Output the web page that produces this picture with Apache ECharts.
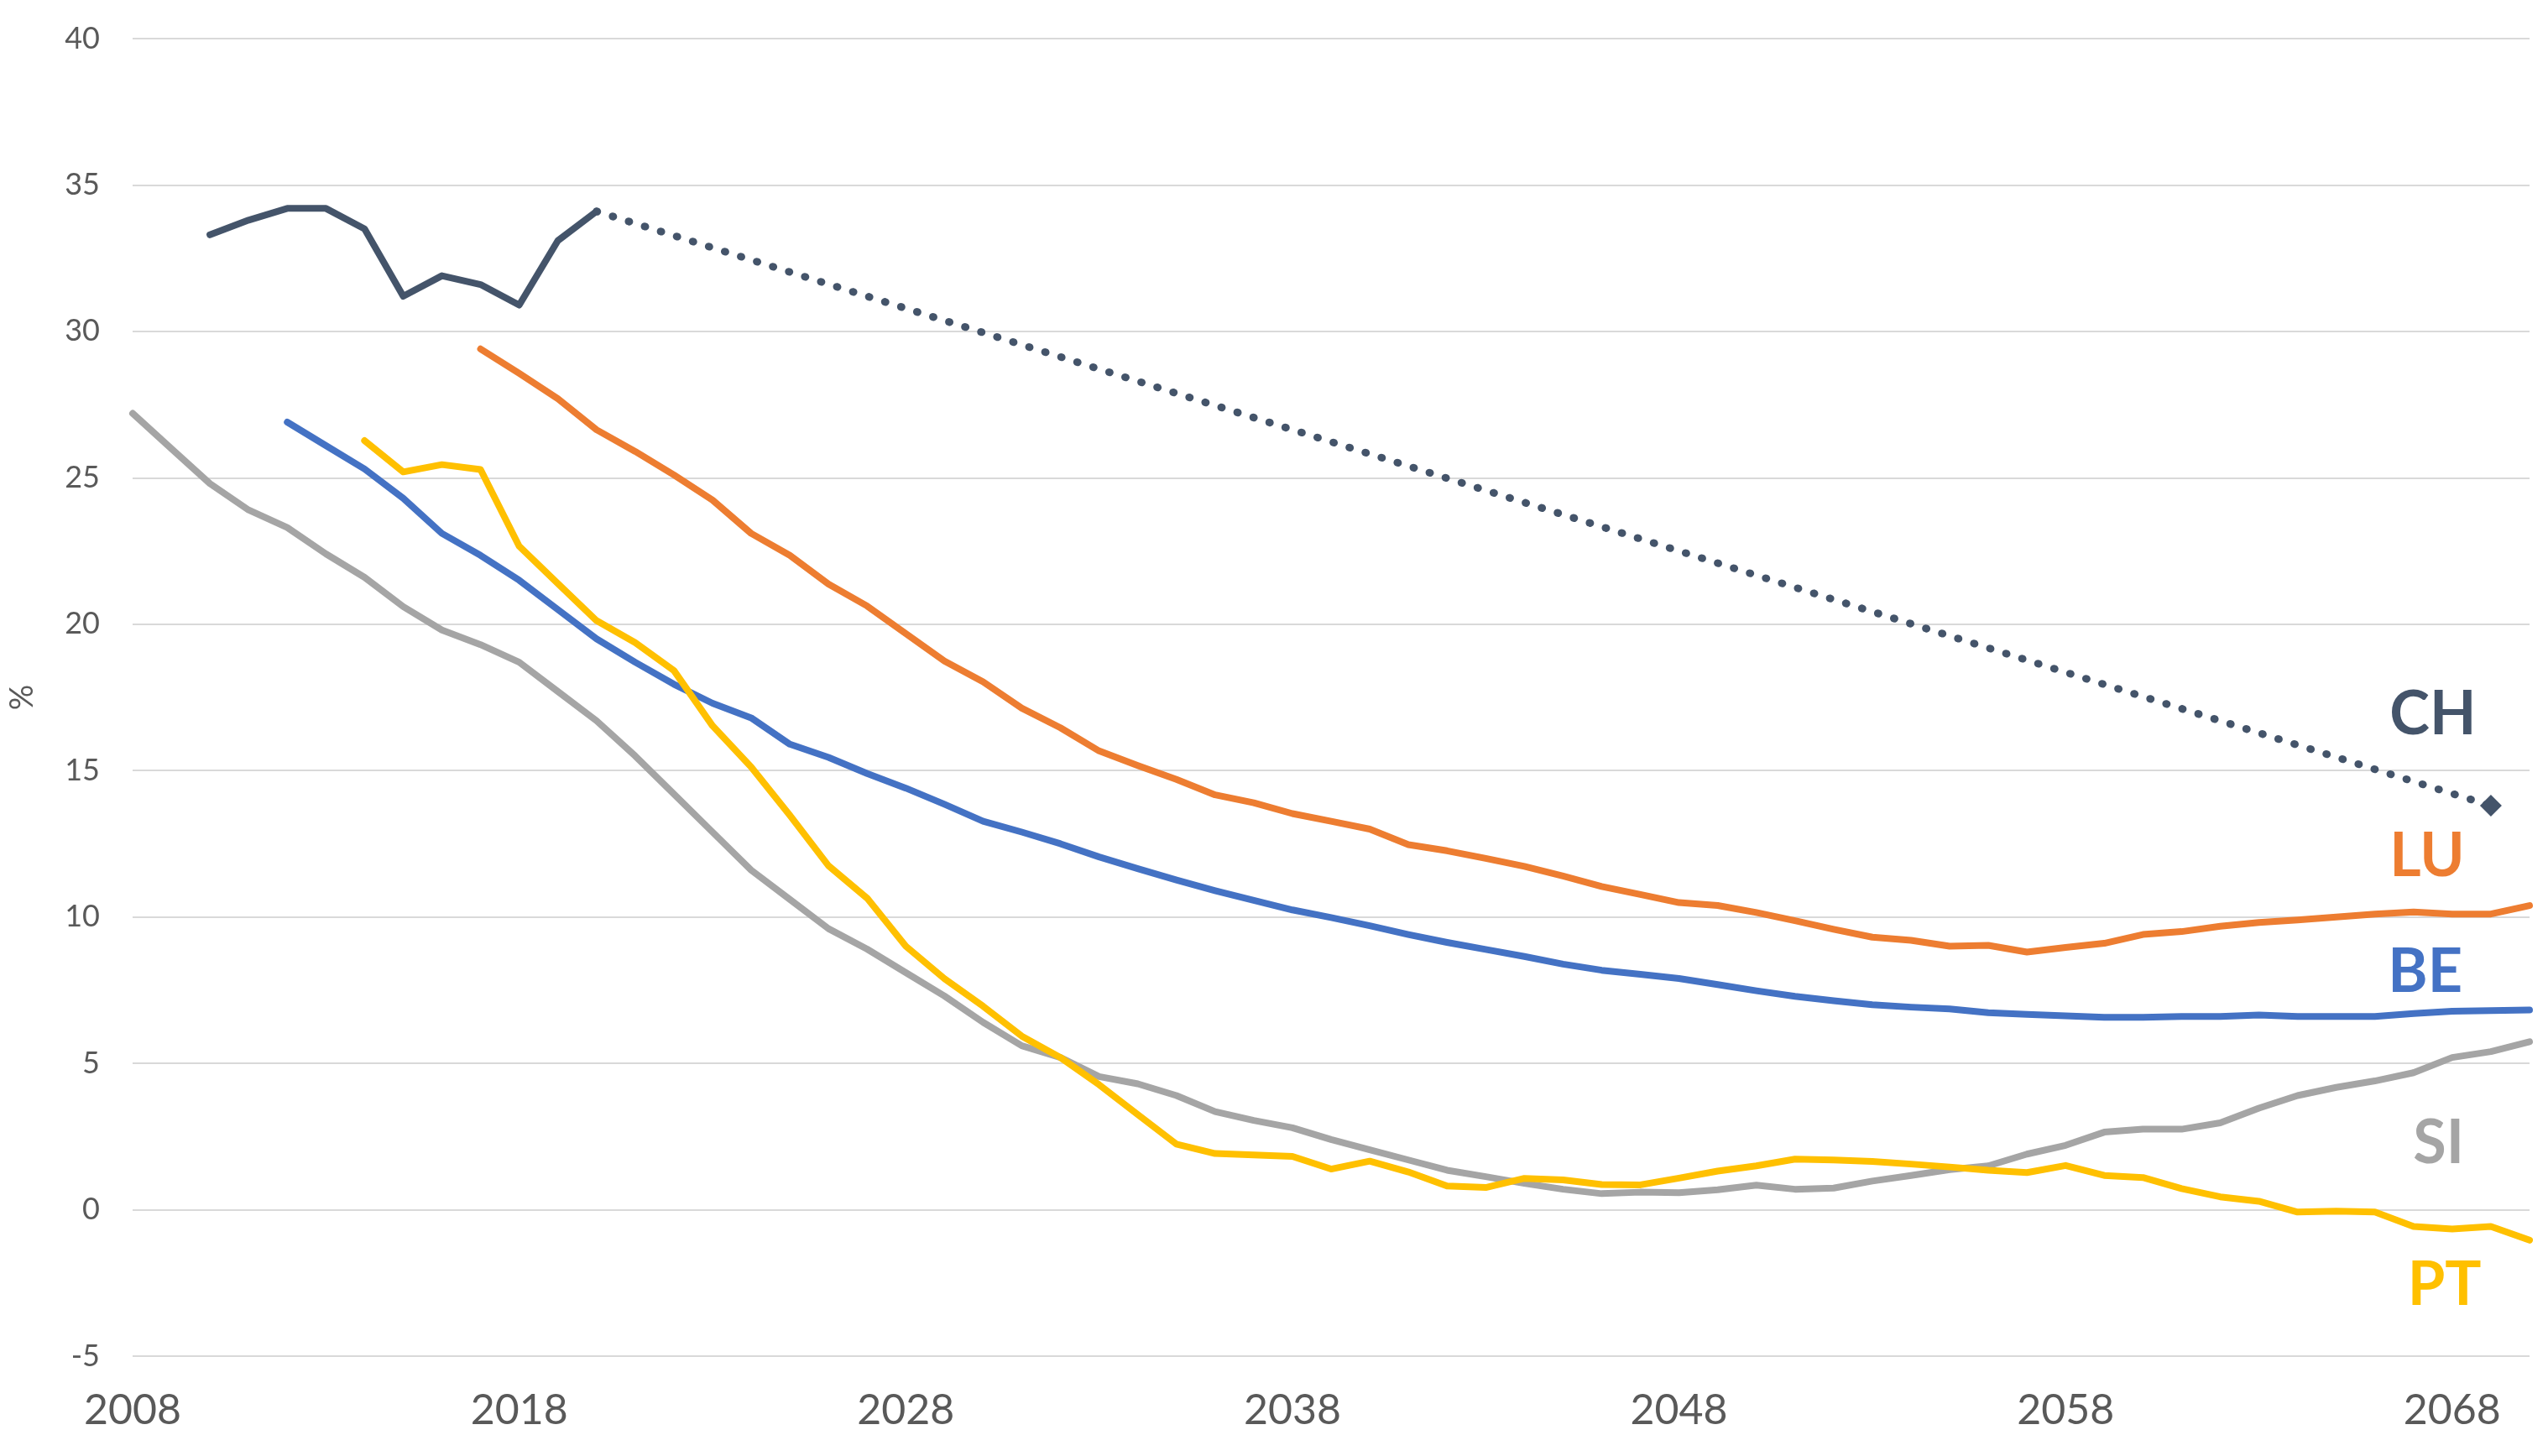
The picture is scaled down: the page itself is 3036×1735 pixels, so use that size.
<!DOCTYPE html>
<html>
<head>
<meta charset="utf-8">
<script src="https://cdn.jsdelivr.net/npm/echarts@6/dist/echarts.min.js"></script>
<style>
  html, body { margin: 0; padding: 0; background: #ffffff; }
  #chart { width: 3036px; height: 1735px; }
</style>
</head>
<body>
<div id="chart"></div>
<script>
// ---------------- DATA ----------------
const xTickYears = [2008, 2018, 2028, 2038, 2048, 2058, 2068];

const chStart = 2010;
const chValues = [33.3, 33.8, 34.2, 34.2, 33.5, 31.2, 31.9, 31.6, 30.9, 33.1, 34.1];
const chProjectionYears = [2020, 2069];
const chProjectionValues = [34.1, 13.8];

const luStart = 2017;
const luValues = [29.4, 28.57, 27.7, 26.64, 25.9, 25.1, 24.24, 23.1, 22.35, 21.37,
  20.62, 19.68, 18.74, 18.03, 17.13, 16.46, 15.67, 15.17, 14.7, 14.17,
  13.9, 13.53, 13.27, 13.0, 12.47, 12.26, 12.0, 11.73, 11.4, 11.04,
  10.77, 10.49, 10.39, 10.15, 9.87, 9.58, 9.31, 9.2, 9.0, 9.03,
  8.8, 8.96, 9.1, 9.4, 9.5, 9.68, 9.81, 9.9, 10.0, 10.1,
  10.17, 10.1, 10.1, 10.39];

const beStart = 2012;
const beValues = [26.9, 26.1, 25.3, 24.3, 23.1, 22.35, 21.5, 20.5, 19.5, 18.7,
  17.95, 17.3, 16.8, 15.9, 15.45, 14.9, 14.4, 13.85, 13.27, 12.9,
  12.5, 12.05, 11.65, 11.26, 10.9, 10.57, 10.24, 9.98, 9.7, 9.4,
  9.13, 8.89, 8.65, 8.39, 8.18, 8.04, 7.9, 7.69, 7.48, 7.29,
  7.14, 7.0, 6.92, 6.86, 6.73, 6.67, 6.62, 6.57, 6.57, 6.6,
  6.6, 6.65, 6.6, 6.6, 6.6, 6.7, 6.78, 6.8, 6.82];

const siStart = 2008;
const siValues = [27.2, 26.0, 24.8, 23.9, 23.3, 22.4, 21.6, 20.6, 19.8, 19.3,
  18.7, 17.7, 16.7, 15.5, 14.2, 12.9, 11.6, 10.6, 9.6, 8.9,
  8.1, 7.3, 6.4, 5.6, 5.2, 4.55, 4.3, 3.9, 3.35, 3.05,
  2.8, 2.4, 2.05, 1.7, 1.35, 1.13, 0.9, 0.7, 0.55, 0.6,
  0.58, 0.68, 0.84, 0.7, 0.74, 0.98, 1.17, 1.37, 1.5, 1.9,
  2.2, 2.65, 2.75, 2.75, 2.97, 3.47, 3.9, 4.18, 4.4, 4.68,
  5.2, 5.4, 5.74];

const ptStart = 2014;
const ptValues = [26.27, 25.2, 25.45, 25.28, 22.66, 21.39, 20.12, 19.37, 18.42, 16.53,
  15.12, 13.47, 11.75, 10.64, 9.0, 7.89, 6.95, 5.93, 5.2, 4.27,
  3.25, 2.24, 1.92, 1.87, 1.82, 1.39, 1.66, 1.29, 0.81, 0.76,
  1.07, 1.02, 0.86, 0.85, 1.08, 1.32, 1.5, 1.73, 1.7, 1.65,
  1.56, 1.46, 1.35, 1.27, 1.51, 1.17, 1.1, 0.72, 0.44, 0.29,
  -0.08, -0.05, -0.08, -0.57, -0.66, -0.57, -1.04];

const labelNames = ['CH', 'LU', 'BE', 'SI', 'PT'];
const labelYears = [2067.5, 2067.35, 2067.3, 2067.65, 2067.8];
const labelValues = [16.9, 12.06, 8.1, 2.26, -2.58];

// ---------------- STYLE ----------------
const colors = { CH: '#44546A', LU: '#ED7D31', BE: '#4472C4', SI: '#A5A5A5', PT: '#FFC000' };
const FONT = 'Lato, "Open Sans", sans-serif';

function pairs(start, vals) { return vals.map((v, i) => [start + i, v]); }

const chart = echarts.init(document.getElementById('chart'), null, { renderer: 'canvas' });

const lineW = 8;
function solid(name, start, vals) {
  return {
    name: name, type: 'line', data: pairs(start, vals),
    showSymbol: false, symbol: 'none',
    lineStyle: { color: colors[name], width: lineW, cap: 'round', join: 'round' },
    itemStyle: { color: colors[name] },
    z: 3
  };
}

const projData = chProjectionYears.map((y, i) => {
  const item = { value: [y, chProjectionValues[i]] };
  if (i === chProjectionYears.length - 1) {
    item.symbol = 'diamond'; item.symbolSize = 26;
  } else {
    item.symbol = 'none';
  }
  return item;
});

const option = {
  animation: false,
  backgroundColor: '#ffffff',
  grid: { left: 156, right: 22, top: 46, bottom: 119 },
  xAxis: {
    type: 'value', min: 2008, max: 2070, interval: 10,
    axisLine: { show: false }, axisTick: { show: false }, splitLine: { show: false },
    axisLabel: {
      color: '#595959', fontSize: 50, fontFamily: FONT, margin: 40,
      showMaxLabel: false,
      formatter: v => (xTickYears.indexOf(v) >= 0 ? String(v) : '')
    }
  },
  yAxis: {
    type: 'value', min: -5, max: 40, interval: 5,
    name: '%', nameLocation: 'middle', nameRotate: 90, nameGap: 112,
    nameTextStyle: { color: '#595959', fontSize: 38, fontFamily: FONT },
    axisLine: { show: false }, axisTick: { show: false },
    splitLine: { lineStyle: { color: '#d9d9d9', width: 2 } },
    axisLabel: { color: '#595959', fontSize: 36, fontFamily: FONT, margin: 39 }
  },
  series: [
    solid('CH', chStart, chValues),
    {
      name: 'CH projection', type: 'line', data: projData,
      showSymbol: true, symbol: 'none',
      lineStyle: { color: colors.CH, width: 9, type: [1, 19], cap: 'round' },
      itemStyle: { color: colors.CH, opacity: 1 },
      z: 3
    },
    solid('LU', luStart, luValues),
    solid('BE', beStart, beValues),
    solid('SI', siStart, siValues),
    solid('PT', ptStart, ptValues),
    {
      name: 'labels', type: 'scatter', symbolSize: 0, silent: true, z: 5,
      itemStyle: { opacity: 1 },
      data: labelNames.map((n, i) => ({
        value: [labelYears[i], labelValues[i]], name: n,
        label: { color: colors[n] }
      })),
      label: {
        show: true, position: 'inside', formatter: p => p.name,
        fontSize: 72, fontWeight: 'bold', fontFamily: FONT,
        textBorderWidth: 0, opacity: 1
      }
    }
  ]
};
chart.setOption(option);
</script>
</body>
</html>
